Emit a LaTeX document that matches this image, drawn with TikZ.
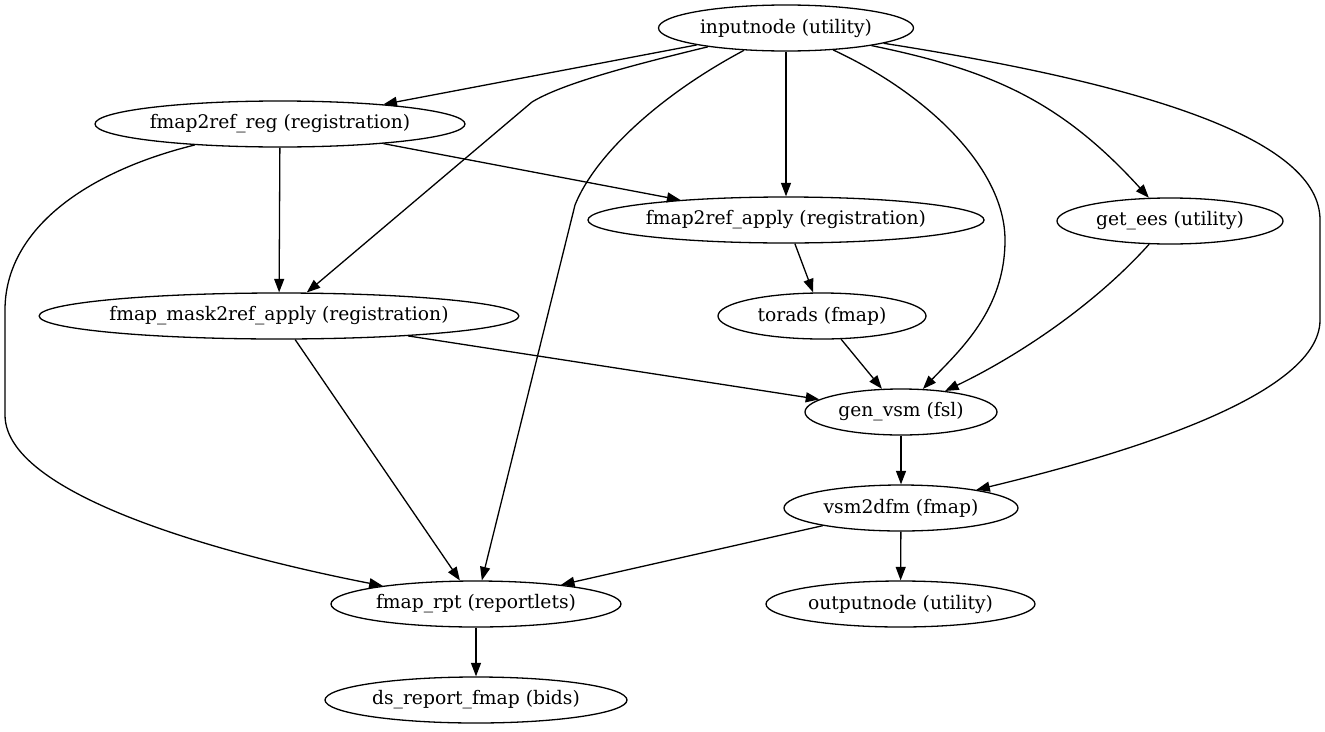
\documentclass[tikz,border=0pt]{standalone}
\usepackage{fontspec}
\setmainfont{DejaVu Serif}
\usetikzlibrary{shapes.geometric,arrows.meta}
\begin{document}
\begin{tikzpicture}[x=1pt,y=-1pt,
  wf/.style={ellipse,draw,line width=1.3pt,inner sep=0pt,minimum height=46pt,
    font=\fontsize{18.7}{22}\selectfont},
  edge/.style={line width=1.3pt,-{Triangle[length=13.5pt,width=10pt]}}]
\useasboundingbox (0,0) rectangle (1325,731);
% workflow nodes
\node[wf,minimum width=255pt] (in)   at (786,28)   {inputnode (utility)};
\node[wf,minimum width=370pt] (reg)  at (280,124)  {fmap2ref\_reg (registration)};
\node[wf,minimum width=394pt] (app)  at (786,220)  {fmap2ref\_apply (registration)};
\node[wf,minimum width=226pt] (ees)  at (1170,221) {get\_ees (utility)};
\node[wf,minimum width=476pt] (mask) at (279,316)  {fmap\_mask2ref\_apply (registration)};
\node[wf,minimum width=208pt] (tor)  at (822,316)  {torads (fmap)};
\node[wf,minimum width=192pt] (vsm)  at (901,412)  {gen\_vsm (fsl)};
\node[wf,minimum width=234pt] (dfm)  at (901,508)  {vsm2dfm (fmap)};
\node[wf,minimum width=290pt] (rpt)  at (476,604)  {fmap\_rpt (reportlets)};
\node[wf,minimum width=269pt] (out)  at (900.5,604) {outputnode (utility)};
\node[wf,minimum width=302pt] (ds)   at (476,700)  {ds\_report\_fmap (bids)};
% connections
\draw[edge] (in) -- (reg);
\draw[edge] (in) .. controls (620,68) and (560,85) .. (532,102) -- (mask);
\draw[edge] (in) .. controls (660,95) and (595,155) .. (575,205) -- (rpt);
\draw[edge] (in) -- (app);
\draw[edge] (in) .. controls (930,95) and (1005,170) .. (1005,240)
                 .. controls (1005,310) and (960,350) .. (vsm);
\draw[edge] (in) .. controls (990,70) and (1060,100) .. (ees);
\draw[edge] (in) .. controls (1150,85) and (1320,140) .. (1320,220) -- (1320,320)
                 .. controls (1320,400) and (1100,460) .. (dfm);
\draw[edge] (reg) -- (app);
\draw[edge] (reg) -- (mask);
\draw[edge] (reg) .. controls (85,172) and (5,230) .. (5,310) -- (5,415)
                  .. controls (5,500) and (250,560) .. (rpt);
\draw[edge] (app) -- (tor);
\draw[edge] (ees) .. controls (1090,310) and (1010,360) .. (vsm);
\draw[edge] (mask) -- (vsm);
\draw[edge] (mask) -- (rpt);
\draw[edge] (tor) -- (vsm);
\draw[edge] (vsm) -- (dfm);
\draw[edge] (dfm) -- (rpt);
\draw[edge] (dfm) -- (out);
\draw[edge] (rpt) -- (ds);
\end{tikzpicture}
\end{document}
